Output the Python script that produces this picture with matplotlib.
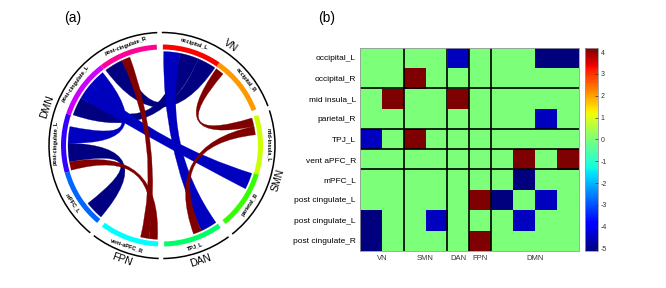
import numpy as np
import matplotlib
matplotlib.use("Agg")
import matplotlib.pyplot as plt
from matplotlib.patches import Wedge, Arc, PathPatch
from matplotlib.path import Path
from matplotlib.colors import Normalize, LinearSegmentedColormap
import colorsys

plt.rcParams['font.family'] = ['Liberation Sans', 'DejaVu Sans']
plt.rcParams['axes.unicode_minus'] = False

# ---------------- data ----------------
regions = ["occipital_L", "occipital_R", "mid insula_L", "parietal_R", "TPJ_L",
           "vent aPFC_R", "mPFC_L", "post cingulate_L", "post cingulate_L",
           "post cingulate_R"]
networks = ["VN", "SMN", "DAN", "FPN", "DMN"]
network_sizes = [2, 2, 1, 1, 4]

conn = np.array([
    [0.0, 0.0, 0.0, 0.0, -4.5, 0.0, 0.0, 0.0, -5.1, -5.1],
    [0.0, 0.0, 4.2, 0.0, 0.0, 0.0, 0.0, 0.0, 0.0, 0.0],
    [0.0, 4.2, 0.0, 0.0, 4.2, 0.0, 0.0, 0.0, 0.0, 0.0],
    [0.0, 0.0, 0.0, 0.0, 0.0, 0.0, 0.0, 0.0, -4.5, 0.0],
    [-4.5, 0.0, 4.2, 0.0, 0.0, 0.0, 0.0, 0.0, 0.0, 0.0],
    [0.0, 0.0, 0.0, 0.0, 0.0, 0.0, 0.0, 4.2, 0.0, 4.2],
    [0.0, 0.0, 0.0, 0.0, 0.0, 0.0, 0.0, -5.1, 0.0, 0.0],
    [0.0, 0.0, 0.0, 0.0, 0.0, 4.2, -5.1, 0.0, -4.5, 0.0],
    [-5.1, 0.0, 0.0, -4.5, 0.0, 0.0, 0.0, -4.5, 0.0, 0.0],
    [-5.1, 0.0, 0.0, 0.0, 0.0, 4.2, 0.0, 0.0, 0.0, 0.0],
])
cbar_ticks = [4, 3, 2, 1, 0, -1, -2, -3, -4, -5]

# ---------------- figure ----------------
W, H = 666, 288
fig = plt.figure(figsize=(W / 100, H / 100), dpi=100)
vmin, vmax = conn.min(), conn.max()
norm = Normalize(vmin=vmin, vmax=vmax)
# jet with its green centre placed at zero
jet = plt.get_cmap('jet')
p0 = (0 - vmin) / (vmax - vmin)
ps = np.linspace(0, 1, 256)
fs = np.where(ps <= p0, 0.5 * ps / p0, 0.5 + 0.5 * (ps - p0) / (1 - p0))
cmap = LinearSegmentedColormap.from_list('jet0', list(zip(ps, jet(fs))))

# ================= (a) chord diagram =================
ax = fig.add_axes([0, 0, 333 / W, 1])
ax.set_xlim(0, 333)
ax.set_ylim(0, 288)
ax.axis('off')

cx, cy = 162.0, 288 - 145.5
r_out, r_in, r_rib = 101.0, 96.0, 94.0
r_lab, r_black, r_grp = 106.5, 113.0, 121.0
gap = 3.5
n = len(regions)
seg = (360 - len(networks) * gap) / n

seg_start, seg_end, grp_start, grp_end = [], [], [], []
ang = 89.5
for size in network_sizes:
    grp_start.append(ang)
    for _ in range(size):
        seg_start.append(ang)
        ang -= seg
        seg_end.append(ang)
    grp_end.append(ang)
    ang -= gap


def pt(theta, r):
    t = np.deg2rad(theta)
    return (cx + r * np.cos(t), cy + r * np.sin(t))


def rot_for(theta):
    if np.sin(np.deg2rad(theta)) >= -0.1:
        return theta - 90
    return theta + 90


# ring segments + labels
for i in range(n):
    col = colorsys.hsv_to_rgb(i / n, 1, 1)
    ax.add_patch(Wedge((cx, cy), r_out, seg_end[i], seg_start[i],
                       width=r_out - r_in, color=col, lw=0))
    mid = (seg_start[i] + seg_end[i]) / 2
    x, y = pt(mid, r_lab)
    ax.text(x, y, regions[i].replace(" ", "-"), fontsize=4, fontweight='bold',
            rotation=rot_for(mid), rotation_mode='anchor',
            ha='center', va='center')

# group arcs + labels
for g, name in enumerate(networks):
    ax.add_patch(Arc((cx, cy), 2 * r_black, 2 * r_black,
                     theta1=grp_end[g] - 0.6, theta2=grp_start[g] + 0.6,
                     color='black', lw=1.1))
    mid = (grp_start[g] + grp_end[g]) / 2
    x, y = pt(mid, r_grp)
    ax.text(x, y, name, fontsize=7.5, rotation=rot_for(mid),
            rotation_mode='anchor', ha='center', va='center')

# ribbon allocation
red_ratio = 0.55
neg_tot = np.abs(np.where(conn < 0, conn, 0)).sum(axis=1)
pos_tot = np.where(conn > 0, conn, 0).sum(axis=1)
blue_scale = seg * 0.97 / np.max(neg_tot + red_ratio * pos_tot)
red_scale = red_ratio * blue_scale
ends = {}
for i in range(n):
    cur = seg_start[i] - 0.5
    for j in range(n):
        v = conn[i, j]
        if v == 0:
            continue
        w = abs(v) * (blue_scale if v < 0 else red_scale)
        ends[(i, j)] = (cur, cur - w)
        cur -= w


def ribbon(a1, a2, b1, b2):
    verts, codes = [], []
    arcA = np.linspace(a1, a2, 25)
    verts.append(pt(a1, r_rib)); codes.append(Path.MOVETO)
    for t in arcA[1:]:
        verts.append(pt(t, r_rib)); codes.append(Path.LINETO)
    verts += [(cx, cy), pt(b1, r_rib)]; codes += [Path.CURVE3, Path.CURVE3]
    for t in np.linspace(b1, b2, 25)[1:]:
        verts.append(pt(t, r_rib)); codes.append(Path.LINETO)
    verts += [(cx, cy), pt(a1, r_rib)]; codes += [Path.CURVE3, Path.CURVE3]
    verts.append(pt(a1, r_rib)); codes.append(Path.CLOSEPOLY)
    return Path(verts, codes)


pairs = [(i, j) for i in range(n) for j in range(i + 1, n) if conn[i, j] != 0]
pairs.sort(key=lambda p: conn[p])  # blue first, red on top
for (i, j) in pairs:
    a1, a2 = ends[(i, j)]
    b1, b2 = ends[(j, i)]
    col = cmap(norm(conn[i, j]))
    ax.add_patch(PathPatch(ribbon(a1, a2, b1, b2), facecolor=col,
                           edgecolor=col, lw=0.2))

fig.text(73 / W, 1 - 18 / H, "(a)", fontsize=10, ha='center', va='center')
fig.text(327 / W, 1 - 18 / H, "(b)", fontsize=10, ha='center', va='center')

# ================= (b) heatmap =================
x0, x1, y0, y1 = 360.0, 578.7, 47.7, 250.7
axb = fig.add_axes([x0 / W, (H - y1) / H, (x1 - x0) / W, (y1 - y0) / H])
im = axb.imshow(conn, cmap=cmap, norm=norm, aspect='auto',
                interpolation='nearest')
bounds = np.cumsum(network_sizes)[:-1]
for b in bounds:
    axb.axvline(b - 0.5, color='black', lw=1.2)
    axb.axhline(b - 0.5, color='black', lw=1.2)
starts = np.concatenate([[0], np.cumsum(network_sizes)[:-1]])
centers = starts + (np.array(network_sizes) - 1) / 2
axb.set_xticks(centers)
axb.set_xticklabels(networks, fontsize=5.5, color='#333333')
axb.set_yticks(range(n))
axb.set_yticklabels(regions, fontsize=6)
axb.tick_params(length=0, pad=3)
for s in axb.spines.values():
    s.set_color('#999999')
    s.set_linewidth(0.6)

cax = fig.add_axes([584.7 / W, (H - y1) / H, 13.3 / W, (y1 - y0) / H])
cb = fig.colorbar(im, cax=cax, ticks=cbar_ticks)
cb.ax.set_yticklabels([str(t) for t in cbar_ticks])
cb.ax.tick_params(labelsize=5, colors='#333333', length=2, width=0.5,
                  direction='in', pad=2)
cb.outline.set_edgecolor('#999999')
cb.outline.set_linewidth(0.6)

fig.savefig("out.png", dpi=100)
